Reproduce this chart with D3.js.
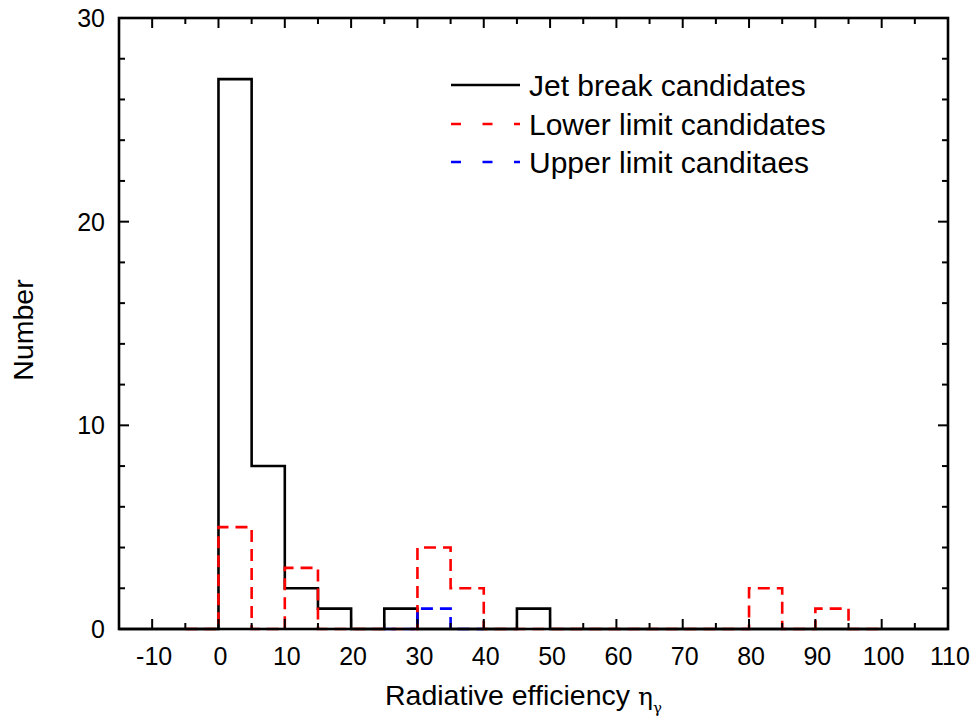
<!DOCTYPE html>
<html><head><meta charset="utf-8">
<script src="https://cdn.jsdelivr.net/npm/d3@7"></script>
<style>body{margin:0;background:#fff}text{font-family:"Liberation Sans",Arial,sans-serif}</style>
</head><body>
<svg id="c" width="974" height="725"></svg>
<script>
// bin left edges (width 5)
const binStarts = [-15,-10,-5,0,5,10,15,20,25,30,35,40,45,50,55,60,65,70,75,80,85,90,95,100,105];
const jetBreak   = [0,0,0,27,8,2,1,0,1,0,0,0,1,0,0,0,0,0,0,0,0,0,0,0,0];
const lowerLimit = [null,null,0,5,0,3,0,0,0,4,2,0,0,0,0,0,0,0,0,2,0,1,0,null,null];
const upperLimit = [null,null,null,null,null,null,null,null,0,1,0,null,null,null,null,null,null,null,null,null,null,null,null,null,null];
const binWidth = 5;
const xTicks = [-10,0,10,20,30,40,50,60,70,80,90,100,110];
const yTicks = [0,10,20,30];
const legendLabels = ["Jet break candidates","Lower limit candidates","Upper limit canditaes"];
const colors = ["#000000","#ff0000","#0000ff"];

const svg = d3.select("#c");
const L=119, R=948, T=18, B=629;
const x = d3.scaleLinear().domain([-15,110]).range([L,R]);
const y = d3.scaleLinear().domain([0,30]).range([B,T]);

function stepPath(vals){
  const pts=[];
  let segs=[];
  binStarts.forEach((s,i)=>{
    const v=vals[i];
    if(v===null){ if(pts.length){segs.push(pts.slice()); pts.length=0;} return; }
    pts.push([x(s),y(v)],[x(s+binWidth),y(v)]);
  });
  if(pts.length) segs.push(pts.slice());
  return segs.map(p=>d3.line()(p)).join("");
}
const series=[jetBreak,lowerLimit,upperLimit];
const dashes=[null,"12,7","12,7"];
const gPlot = svg.append("g");
series.forEach((vals,i)=>{
  gPlot.append("path").attr("d",stepPath(vals)).attr("fill","none")
    .attr("stroke",colors[i]).attr("stroke-width",2.6)
    .attr("stroke-dasharray",dashes[i]).attr("stroke-linejoin","miter");
});

// axes
const minorX = d3.range(-15,111,5);
const minorY = d3.range(0,31,2);
const ax = svg.append("g");
function tickLines(sel, data, fn){ data.forEach(d=>{ const [x1,y1,x2,y2]=fn(d); sel.append("line").attr("x1",x1).attr("y1",y1).attr("x2",x2).attr("y2",y2).attr("stroke","#000").attr("stroke-width",2);}); }
tickLines(ax, minorX, d=>{const len = xTicks.includes(d)?10:6; return [x(d),B,x(d),B-len];});
tickLines(ax, minorX, d=>{const len = xTicks.includes(d)?10:6; return [x(d),T,x(d),T+len];});
tickLines(ax, minorY, d=>{const len = yTicks.includes(d)?10:6; return [L,y(d),L+len,y(d)];});
tickLines(ax, minorY, d=>{const len = yTicks.includes(d)?10:6; return [R,y(d),R-len,y(d)];});
ax.append("rect").attr("x",L).attr("y",T).attr("width",R-L).attr("height",B-T)
  .attr("fill","none").attr("stroke","#000").attr("stroke-width",2.6);

ax.selectAll(".xl").data(xTicks).enter().append("text")
  .attr("x",d=>x(d)+2).attr("y",665).attr("text-anchor","middle")
  .attr("font-size",25).text(d=>d);
ax.selectAll(".yl").data(yTicks).enter().append("text")
  .attr("x",105).attr("y",d=>y(d)+9).attr("text-anchor","end")
  .attr("font-size",25).text(d=>d);

// axis titles
const xt = svg.append("text").attr("x",385).attr("y",705).attr("text-anchor","start").attr("font-size",28.5);
xt.append("tspan").text("Radiative efficiency ");
xt.append("tspan").attr("font-family","'DejaVu Serif',serif").attr("font-size",25).text("η");
xt.append("tspan").attr("font-size",15).attr("dy",8).attr("font-family","'DejaVu Serif',serif").text("γ");
svg.append("text").attr("transform","translate(33,330) rotate(-90)").attr("text-anchor","middle")
  .attr("font-size",28.5).text("Number");

// legend
const legY=[85,124,162];
legendLabels.forEach((t,i)=>{
  svg.append("line").attr("x1",451).attr("x2",520).attr("y1",legY[i]).attr("y2",legY[i])
    .attr("stroke",colors[i]).attr("stroke-width",2.6)
    .attr("stroke-dasharray", i===0?null:"10,21.5");
  svg.append("text").attr("x",529).attr("y",legY[i]+11).attr("font-size",30).text(t);
});
</script>
</body></html>
